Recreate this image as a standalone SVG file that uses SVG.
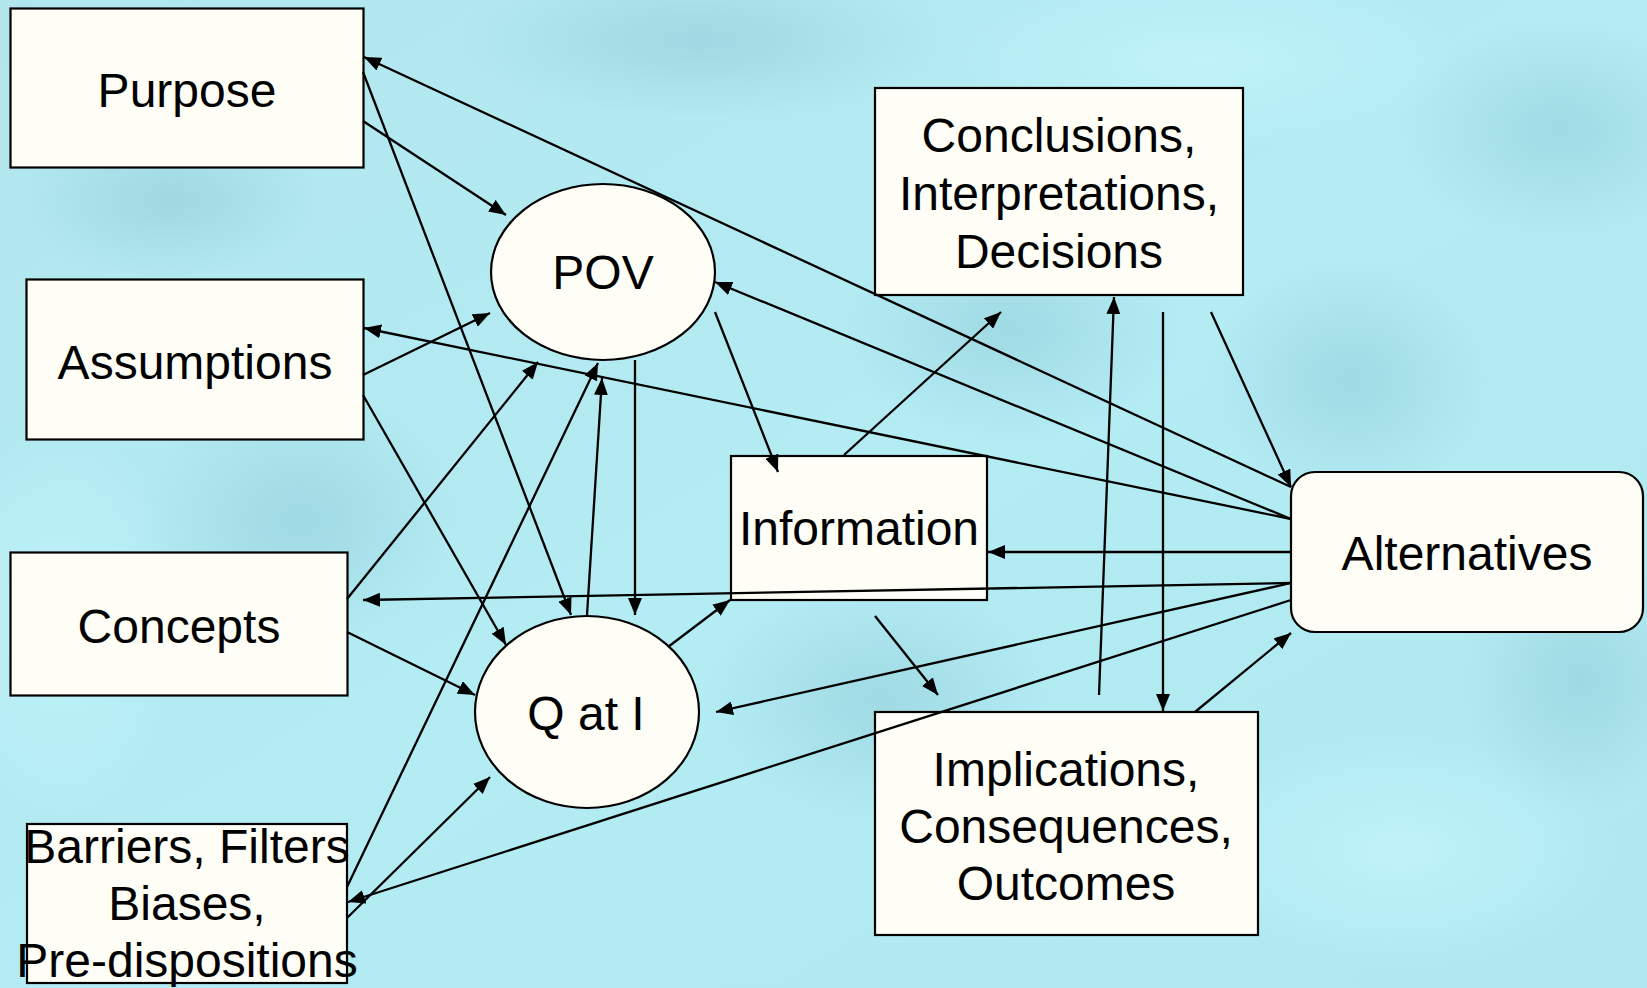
<svg xmlns="http://www.w3.org/2000/svg" width="1647" height="988" viewBox="0 0 1647 988">
<defs>
<linearGradient id="bg" x1="0" y1="0" x2="1" y2="1">
<stop offset="0" stop-color="#b2e6ee"/>
<stop offset="0.5" stop-color="#b4ecf4"/>
<stop offset="1" stop-color="#b0e8f0"/>
</linearGradient>
<radialGradient id="dk"><stop offset="0" stop-color="#8fcbd6" stop-opacity="0.55"/><stop offset="1" stop-color="#8fcbd6" stop-opacity="0"/></radialGradient>
<radialGradient id="lt"><stop offset="0" stop-color="#c6f6fc" stop-opacity="0.7"/><stop offset="1" stop-color="#c6f6fc" stop-opacity="0"/></radialGradient>
<marker id="ah" markerUnits="userSpaceOnUse" markerWidth="18" markerHeight="14" refX="17" refY="7" orient="auto">
<path d="M0,0 L17,7 L0,14 z" fill="#000"/>
</marker>
</defs>
<style>
.box{fill:#fefef6;stroke:#000;stroke-width:2.2}
.t{font-family:"Liberation Sans",Arial,sans-serif;font-size:48px;fill:#000;text-anchor:middle}
.c line{stroke:#000;stroke-width:2.3;marker-end:url(#ah)}
</style>
<rect width="1647" height="988" fill="url(#bg)"/>
<ellipse cx="1560" cy="130" rx="160" ry="110" fill="url(#dk)"/>
<ellipse cx="1010" cy="330" rx="170" ry="110" fill="url(#dk)"/>
<ellipse cx="880" cy="700" rx="170" ry="120" fill="url(#dk)"/>
<ellipse cx="1350" cy="380" rx="140" ry="120" fill="url(#dk)"/>
<ellipse cx="300" cy="520" rx="160" ry="130" fill="url(#dk)"/>
<ellipse cx="170" cy="200" rx="150" ry="80" fill="url(#dk)"/>
<ellipse cx="700" cy="40" rx="240" ry="80" fill="url(#dk)"/>
<ellipse cx="1580" cy="680" rx="120" ry="130" fill="url(#dk)"/>
<ellipse cx="60" cy="620" rx="120" ry="200" fill="url(#lt)"/>
<ellipse cx="1200" cy="60" rx="260" ry="90" fill="url(#lt)"/>
<ellipse cx="1400" cy="850" rx="220" ry="120" fill="url(#lt)"/>

<g id="purpose"><rect class="box" x="10.5" y="8.5" width="353" height="159"/><text class="t" x="187" y="107">Purpose</text></g>
<g id="assumptions"><rect class="box" x="26.5" y="279.5" width="337" height="160"/><text class="t" x="195" y="379">Assumptions</text></g>
<g id="concepts"><rect class="box" x="10.5" y="552.5" width="337" height="143"/><text class="t" x="179" y="643">Concepts</text></g>
<g id="barriers"><rect class="box" x="27" y="824" width="320" height="159"/>
<text class="t" x="187" y="863">Barriers, Filters</text><text class="t" x="187" y="920">Biases,</text><text class="t" x="187" y="977">Pre-dispositions</text></g>
<g id="pov"><ellipse class="box" cx="603" cy="272" rx="112" ry="88"/><text class="t" x="603" y="289">POV</text></g>
<g id="qati"><ellipse class="box" cx="587" cy="712" rx="112" ry="96"/><text class="t" x="586" y="730">Q at I</text></g>
<g id="information"><rect class="box" x="731" y="456" width="256" height="144"/><text class="t" x="859" y="545">Information</text></g>
<g id="conclusions"><rect class="box" x="875" y="88" width="368" height="207"/>
<text class="t" x="1059" y="152">Conclusions,</text><text class="t" x="1059" y="210">Interpretations,</text><text class="t" x="1059" y="268">Decisions</text></g>
<g id="implications"><rect class="box" x="875" y="712" width="383" height="223"/>
<text class="t" x="1066" y="786">Implications,</text><text class="t" x="1066" y="843">Consequences,</text><text class="t" x="1066" y="900">Outcomes</text></g>
<g id="alternatives"><rect class="box" x="1291" y="472" width="352" height="160" rx="24" ry="24"/><text class="t" x="1467" y="570">Alternatives</text></g>

<g id="connectors" class="c">
<line x1="363" y1="121" x2="506" y2="215"/>
<line x1="363" y1="72" x2="571" y2="615"/>
<line x1="1291" y1="487" x2="364" y2="57"/>
<line x1="363" y1="375" x2="490" y2="313"/>
<line x1="1291" y1="519" x2="364" y2="328"/>
<line x1="363" y1="395" x2="506" y2="645"/>
<line x1="347" y1="599" x2="538" y2="362"/>
<line x1="1291" y1="583" x2="363" y2="600"/>
<line x1="347" y1="632" x2="475" y2="695"/>
<line x1="347" y1="887" x2="598" y2="363"/>
<line x1="347" y1="918" x2="490" y2="777"/>
<line x1="1291" y1="600" x2="348" y2="902"/>
<line x1="587" y1="615" x2="602" y2="378"/>
<line x1="635" y1="360" x2="635" y2="615"/>
<line x1="715" y1="312" x2="778" y2="472"/>
<line x1="1291" y1="519" x2="715" y2="282"/>
<line x1="668" y1="647" x2="730" y2="600"/>
<line x1="844" y1="455" x2="1001" y2="312"/>
<line x1="1291" y1="552" x2="988" y2="552"/>
<line x1="875" y1="616" x2="938" y2="695"/>
<line x1="1291" y1="583" x2="716" y2="712"/>
<line x1="1099" y1="695" x2="1114" y2="297"/>
<line x1="1163" y1="312" x2="1163" y2="711"/>
<line x1="1211" y1="312" x2="1291" y2="487"/>
<line x1="1195" y1="712" x2="1291" y2="633"/>
</g>
</svg>
